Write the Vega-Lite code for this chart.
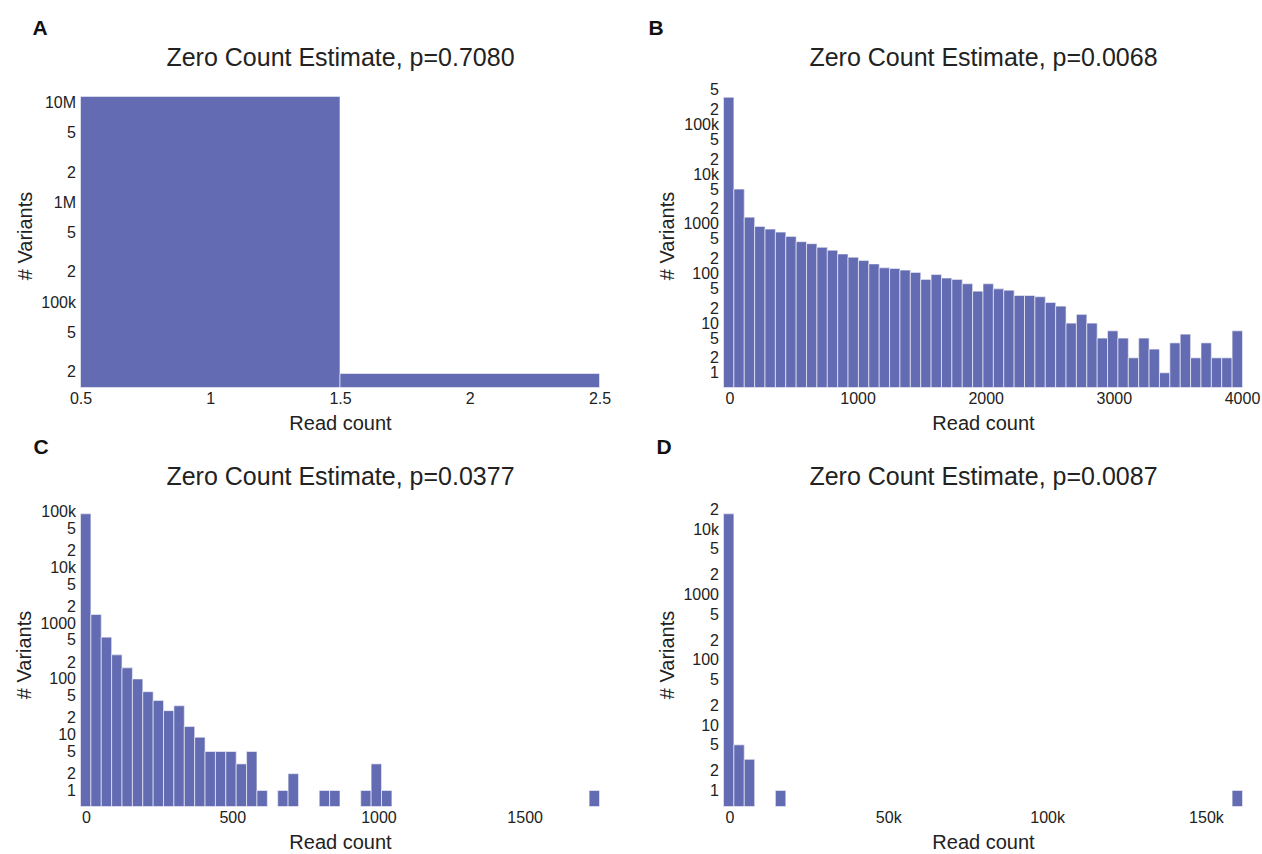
{
  "$schema": "https://vega.github.io/schema/vega-lite/v6.json",
  "background": "white",
  "padding": {"left": 14.5, "top": 17.5, "right": 5, "bottom": 5},
  "bounds": "flush",
  "columns": 2,
  "spacing": {"row": 115, "column": 124},
  "config": {
    "font": "Liberation Sans",
    "view": {"stroke": null},
    "bar": {"fill": "#636bb2", "stroke": "white", "strokeWidth": 1, "strokeOpacity": 0.6},
    "axis": {
      "domain": false, "ticks": false, "grid": false, "tickSize": 0,
      "labelFont": "Liberation Sans", "labelFontSize": 16, "labelColor": "#222",
      "titleFont": "Liberation Sans", "titleFontSize": 20, "titleFontWeight": "normal", "titleColor": "#222",
      "labelFlush": false, "labelOverlap": false, "labelPadding": 3
    },
    "axisBottom": {"titlePadding": 7},
    "axisTop": {"labels": false, "titleFontSize": 25, "titlePadding": 13, "titleColor": "#222"},
    "axisY": {"titlePadding": 5, "labelPadding": 5},
    "title": {"font": "Liberation Sans", "color": "#111", "fontSize": 21, "fontWeight": "bold", "anchor": "start", "frame": "group", "baseline": "bottom", "offset": 7}
  },
  "datasets": {
    "a": [
      {"lo": 0.5, "hi": 1.5, "n": 11500000},
      {"lo": 1.5, "hi": 2.5, "n": 19200}
    ],
    "b": [
      {"lo": -46, "hi": 35, "n": 352000},
      {"lo": 35, "hi": 116, "n": 5000},
      {"lo": 116, "hi": 197, "n": 1360},
      {"lo": 197, "hi": 278, "n": 885},
      {"lo": 278, "hi": 359, "n": 782},
      {"lo": 359, "hi": 440, "n": 681},
      {"lo": 440, "hi": 521, "n": 558},
      {"lo": 521, "hi": 602, "n": 437},
      {"lo": 602, "hi": 683, "n": 398},
      {"lo": 683, "hi": 764, "n": 336},
      {"lo": 764, "hi": 845, "n": 293},
      {"lo": 845, "hi": 926, "n": 247},
      {"lo": 926, "hi": 1007, "n": 212},
      {"lo": 1007, "hi": 1088, "n": 182},
      {"lo": 1088, "hi": 1169, "n": 156},
      {"lo": 1169, "hi": 1250, "n": 130},
      {"lo": 1250, "hi": 1331, "n": 126},
      {"lo": 1331, "hi": 1412, "n": 117},
      {"lo": 1412, "hi": 1493, "n": 105},
      {"lo": 1493, "hi": 1574, "n": 76},
      {"lo": 1574, "hi": 1655, "n": 95},
      {"lo": 1655, "hi": 1736, "n": 81},
      {"lo": 1736, "hi": 1817, "n": 76},
      {"lo": 1817, "hi": 1898, "n": 62},
      {"lo": 1898, "hi": 1979, "n": 44},
      {"lo": 1979, "hi": 2060, "n": 62},
      {"lo": 2060, "hi": 2141, "n": 49},
      {"lo": 2141, "hi": 2222, "n": 46},
      {"lo": 2222, "hi": 2303, "n": 36},
      {"lo": 2303, "hi": 2384, "n": 36},
      {"lo": 2384, "hi": 2465, "n": 34},
      {"lo": 2465, "hi": 2546, "n": 26},
      {"lo": 2546, "hi": 2627, "n": 22},
      {"lo": 2627, "hi": 2708, "n": 10},
      {"lo": 2708, "hi": 2789, "n": 15},
      {"lo": 2789, "hi": 2870, "n": 10},
      {"lo": 2870, "hi": 2951, "n": 5},
      {"lo": 2951, "hi": 3032, "n": 7},
      {"lo": 3032, "hi": 3113, "n": 5},
      {"lo": 3113, "hi": 3194, "n": 2},
      {"lo": 3194, "hi": 3275, "n": 5},
      {"lo": 3275, "hi": 3356, "n": 3},
      {"lo": 3356, "hi": 3437, "n": 1},
      {"lo": 3437, "hi": 3518, "n": 4},
      {"lo": 3518, "hi": 3599, "n": 6},
      {"lo": 3599, "hi": 3680, "n": 2},
      {"lo": 3680, "hi": 3761, "n": 4},
      {"lo": 3761, "hi": 3842, "n": 2},
      {"lo": 3842, "hi": 3923, "n": 2},
      {"lo": 3923, "hi": 4004, "n": 7}
    ],
    "c": [
      {"lo": -19, "hi": 16.5, "n": 91000},
      {"lo": 16.5, "hi": 52, "n": 1426},
      {"lo": 52, "hi": 87.5, "n": 560},
      {"lo": 87.5, "hi": 123, "n": 270},
      {"lo": 123, "hi": 158.5, "n": 158},
      {"lo": 158.5, "hi": 194, "n": 100},
      {"lo": 194, "hi": 229.5, "n": 59},
      {"lo": 229.5, "hi": 265, "n": 41},
      {"lo": 265, "hi": 300.5, "n": 27},
      {"lo": 300.5, "hi": 336, "n": 33},
      {"lo": 336, "hi": 371.5, "n": 14},
      {"lo": 371.5, "hi": 407, "n": 9},
      {"lo": 407, "hi": 442.5, "n": 5},
      {"lo": 442.5, "hi": 478, "n": 5},
      {"lo": 478, "hi": 513.5, "n": 5},
      {"lo": 513.5, "hi": 549, "n": 3},
      {"lo": 549, "hi": 584.5, "n": 5},
      {"lo": 584.5, "hi": 620, "n": 1},
      {"lo": 655.5, "hi": 691, "n": 1},
      {"lo": 691, "hi": 726.5, "n": 2},
      {"lo": 797.5, "hi": 833, "n": 1},
      {"lo": 833, "hi": 868.5, "n": 1},
      {"lo": 939.5, "hi": 975, "n": 1},
      {"lo": 975, "hi": 1010.5, "n": 3},
      {"lo": 1010.5, "hi": 1046, "n": 1},
      {"lo": 1720.5, "hi": 1756, "n": 1}
    ],
    "d": [
      {"lo": -1850, "hi": 1417, "n": 17200},
      {"lo": 1417, "hi": 4684, "n": 5},
      {"lo": 4684, "hi": 7951, "n": 3},
      {"lo": 14485, "hi": 17752, "n": 1},
      {"lo": 158233, "hi": 161500, "n": 1}
    ]
  },
  "concat": [
    {
      "title": {"text": "A", "dx": -48},
      "width": 519, "height": 304,
      "data": {"name": "a"},
      "encoding": {
        "x2": {"field": "hi"},
        "y": {"field": "n", "type": "quantitative", "scale": {"type": "log", "domain": [13900, 15500000], "nice": false},
              "axis": {"title": "# Variants", "values": [20000, 50000, 100000, 200000, 500000, 1000000, 2000000, 5000000, 10000000],
                       "labelExpr": "datum.value == 10000000 ? '10M' : datum.value == 1000000 ? '1M' : datum.value == 100000 ? '100k' : datum.value == 10000 ? '10k' : (datum.value == 1000 || datum.value == 100 || datum.value == 10 || datum.value == 1) ? format(datum.value, 'd') : slice(format(datum.value, 'd'), 0, 1)"}},
        "y2": {"datum": 13900}
      },
      "layer": [
        {"mark": "bar", "encoding": {"x": {"field": "lo", "type": "quantitative", "scale": {"domain": [0.5, 2.5], "nice": false, "zero": false},
              "axis": {"title": "Read count", "orient": "bottom", "values": [0.5, 1, 1.5, 2, 2.5], "format": "~g"}}}},
        {"mark": "bar", "encoding": {"x": {"field": "lo", "type": "quantitative", "axis": {"title": "Zero Count Estimate, p=0.7080", "orient": "top"}}}}
      ],
      "resolve": {"axis": {"x": "independent"}}
    },
    {
      "title": {"text": "B", "dx": -75},
      "width": 519, "height": 304,
      "data": {"name": "b"},
      "encoding": {
        "x2": {"field": "hi"},
        "y": {"field": "n", "type": "quantitative", "scale": {"type": "log", "domain": [0.506, 668000], "nice": false},
              "axis": {"title": "# Variants", "values": [1, 2, 5, 10, 20, 50, 100, 200, 500, 1000, 2000, 5000, 10000, 20000, 50000, 100000, 200000, 500000],
                       "labelExpr": "datum.value == 10000000 ? '10M' : datum.value == 1000000 ? '1M' : datum.value == 100000 ? '100k' : datum.value == 10000 ? '10k' : (datum.value == 1000 || datum.value == 100 || datum.value == 10 || datum.value == 1) ? format(datum.value, 'd') : slice(format(datum.value, 'd'), 0, 1)"}},
        "y2": {"datum": 0.506}
      },
      "layer": [
        {"mark": "bar", "encoding": {"x": {"field": "lo", "type": "quantitative", "scale": {"domain": [-46, 4004], "nice": false, "zero": false},
              "axis": {"title": "Read count", "orient": "bottom", "values": [0, 1000, 2000, 3000, 4000], "format": "d"}}}},
        {"mark": "bar", "encoding": {"x": {"field": "lo", "type": "quantitative", "axis": {"title": "Zero Count Estimate, p=0.0068", "orient": "top"}}}}
      ],
      "resolve": {"axis": {"x": "independent"}}
    },
    {
      "title": {"text": "C", "dx": -47},
      "width": 519, "height": 304,
      "data": {"name": "c"},
      "encoding": {
        "x2": {"field": "hi"},
        "y": {"field": "n", "type": "quantitative", "scale": {"type": "log", "domain": [0.517, 145000], "nice": false},
              "axis": {"title": "# Variants", "values": [1, 2, 5, 10, 20, 50, 100, 200, 500, 1000, 2000, 5000, 10000, 20000, 50000, 100000],
                       "labelExpr": "datum.value == 10000000 ? '10M' : datum.value == 1000000 ? '1M' : datum.value == 100000 ? '100k' : datum.value == 10000 ? '10k' : (datum.value == 1000 || datum.value == 100 || datum.value == 10 || datum.value == 1) ? format(datum.value, 'd') : slice(format(datum.value, 'd'), 0, 1)"}},
        "y2": {"datum": 0.517}
      },
      "layer": [
        {"mark": "bar", "encoding": {"x": {"field": "lo", "type": "quantitative", "scale": {"domain": [-19, 1756], "nice": false, "zero": false},
              "axis": {"title": "Read count", "orient": "bottom", "values": [0, 500, 1000, 1500], "format": "d"}}}},
        {"mark": "bar", "encoding": {"x": {"field": "lo", "type": "quantitative", "axis": {"title": "Zero Count Estimate, p=0.0377", "orient": "top"}}}}
      ],
      "resolve": {"axis": {"x": "independent"}}
    },
    {
      "title": {"text": "D", "dx": -67},
      "width": 519, "height": 304,
      "data": {"name": "d"},
      "encoding": {
        "x2": {"field": "hi"},
        "y": {"field": "n", "type": "quantitative", "scale": {"type": "log", "domain": [0.569, 25600], "nice": false},
              "axis": {"title": "# Variants", "values": [1, 2, 5, 10, 20, 50, 100, 200, 500, 1000, 2000, 5000, 10000, 20000],
                       "labelExpr": "datum.value == 10000000 ? '10M' : datum.value == 1000000 ? '1M' : datum.value == 100000 ? '100k' : datum.value == 10000 ? '10k' : (datum.value == 1000 || datum.value == 100 || datum.value == 10 || datum.value == 1) ? format(datum.value, 'd') : slice(format(datum.value, 'd'), 0, 1)"}},
        "y2": {"datum": 0.569}
      },
      "layer": [
        {"mark": "bar", "encoding": {"x": {"field": "lo", "type": "quantitative", "scale": {"domain": [-1850, 161500], "nice": false, "zero": false},
              "axis": {"title": "Read count", "orient": "bottom", "values": [0, 50000, 100000, 150000], "labelExpr": "datum.value == 0 ? '0' : format(datum.value / 1000, 'd') + 'k'"}}}},
        {"mark": "bar", "encoding": {"x": {"field": "lo", "type": "quantitative", "axis": {"title": "Zero Count Estimate, p=0.0087", "orient": "top"}}}}
      ],
      "resolve": {"axis": {"x": "independent"}}
    }
  ]
}
